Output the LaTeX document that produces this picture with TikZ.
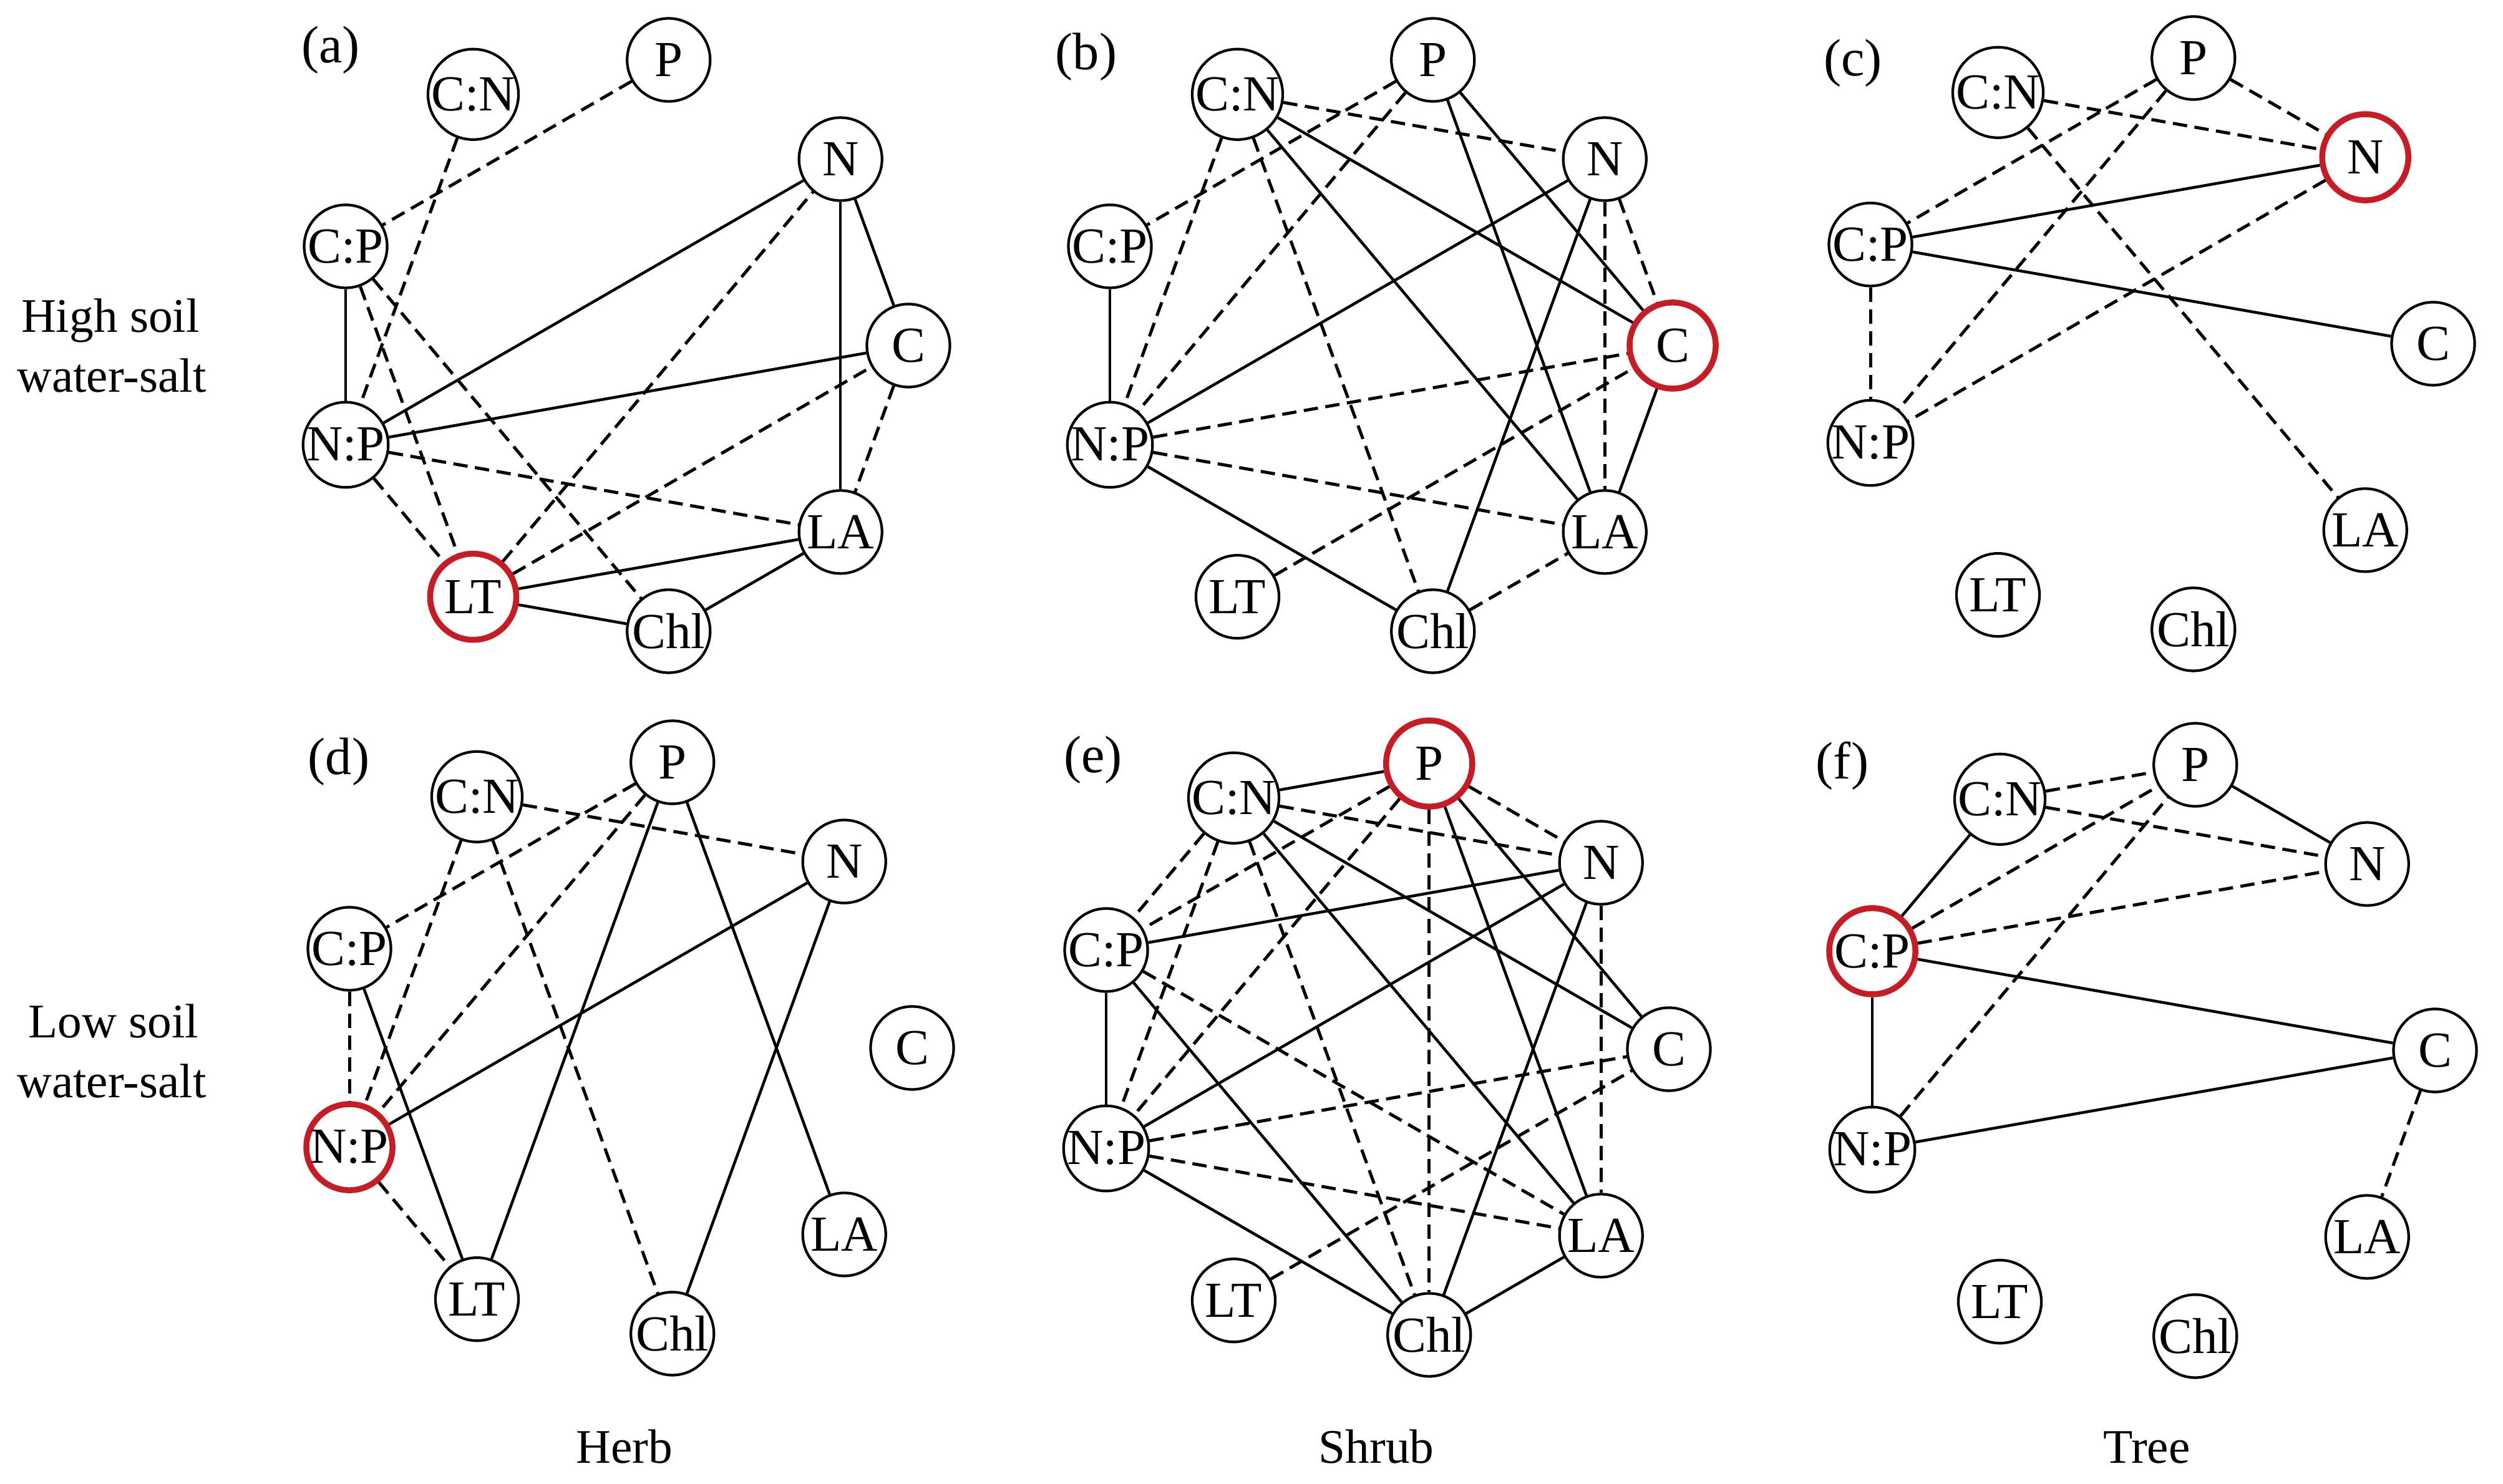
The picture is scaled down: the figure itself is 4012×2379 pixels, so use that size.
\documentclass[tikz,border=0pt]{standalone}
\usepackage{fontspec}
\setmainfont{Liberation Serif}
\definecolor{hlred}{RGB}{200,28,36}
\newcommand\panelnodes[3]{%
 \begin{scope}[shift={(#2,#3)}]
 \node[nd,hl#1C/.try] (#1C) at (0:465) {C};
 \node[nd,hl#1N/.try] (#1N) at (40:465) {N};
 \node[nd,hl#1P/.try] (#1P) at (80:465) {P};
 \node[nd,hl#1CN/.try] (#1CN) at (120:465) {C:N};
 \node[nd,hl#1CP/.try] (#1CP) at (160:465) {C:P};
 \node[nd,hl#1NP/.try] (#1NP) at (200:465) {N:P};
 \node[nd,hl#1LT/.try] (#1LT) at (240:465) {LT};
 \node[nd,hl#1Chl/.try] (#1Chl) at (280:465) {Chl};
 \node[nd,hl#1LA/.try] (#1LA) at (320:465) {LA};
 \end{scope}}
\begin{document}
\begin{tikzpicture}[x=0.01cm,y=0.01cm,
 nd/.style={circle,draw,line width=0.042cm,minimum size=1.33cm,inner sep=0pt,font=\fontsize{23}{26}\selectfont},
 redring/.style={draw=hlred,line width=0.095cm,minimum size=1.38cm},
 sl/.style={line width=0.045cm},
 dl/.style={line width=0.05cm,dash pattern=on 0.23cm off 0.12cm},
 lbl/.style={font=\fontsize{24}{28}\selectfont},
 side/.style={font=\fontsize{22}{26}\selectfont,anchor=base},
 hlaLT/.style={redring}, hlbC/.style={redring}, hlcN/.style={redring},
 hldNP/.style={redring}, hleP/.style={redring}, hlfCP/.style={redring}]
\useasboundingbox (0,0) rectangle (4012,2379);

% panel nodes
\panelnodes{a}{991}{1825}
\panelnodes{b}{2216}{1825}
\panelnodes{c}{3435}{1828}
\panelnodes{d}{997}{699}
\panelnodes{e}{2210}{697}
\panelnodes{f}{3438}{695}

% (a)
\foreach \u/\v in {CP/NP, NP/N, NP/C, N/LA, N/C, LT/LA, LT/Chl, Chl/LA}
  \draw[sl] (a\u) -- (a\v);
\foreach \u/\v in {P/CP, CN/NP, CP/LT, CP/Chl, NP/LA, NP/LT, LT/N, LT/C, C/LA}
  \draw[dl] (a\u) -- (a\v);
% (b)
\foreach \u/\v in {CP/NP, CN/C, CN/LA, P/LA, P/C, N/NP, N/Chl, C/LA, NP/Chl}
  \draw[sl] (b\u) -- (b\v);
\foreach \u/\v in {CN/N, P/CP, P/NP, CN/NP, CN/Chl, N/LA, N/C, NP/C, NP/LA, LT/C, Chl/LA}
  \draw[dl] (b\u) -- (b\v);
% (c)
\foreach \u/\v in {CP/N, CP/C}
  \draw[sl] (c\u) -- (c\v);
\foreach \u/\v in {CN/N, P/N, P/CP, P/NP, CN/LA, N/NP, CP/NP}
  \draw[dl] (c\u) -- (c\v);
% (d)
\foreach \u/\v in {CP/LT, P/LT, P/LA, N/NP, N/Chl}
  \draw[sl] (d\u) -- (d\v);
\foreach \u/\v in {CN/N, P/CP, P/NP, CN/NP, CN/Chl, CP/NP, NP/LT}
  \draw[dl] (d\u) -- (d\v);
% (e)
\foreach \u/\v in {CN/P, CP/N, CP/NP, CP/Chl, CN/C, CN/LA, P/LA, P/C, N/NP, N/Chl, NP/Chl, Chl/LA}
  \draw[sl] (e\u) -- (e\v);
\foreach \u/\v in {CN/N, P/N, P/CP, P/NP, P/Chl, CN/CP, CN/NP, CN/Chl, CP/LA, N/LA, NP/C, NP/LA, LT/C}
  \draw[dl] (e\u) -- (e\v);
% (f)
\foreach \u/\v in {CN/CP, P/N, CP/C, CP/NP, NP/C}
  \draw[sl] (f\u) -- (f\v);
\foreach \u/\v in {CN/P, CN/N, CP/P, CP/N, NP/P, C/LA}
  \draw[dl] (f\u) -- (f\v);

% panel labels
\node[lbl] (la) at (530,2299) {(a)};
\node[lbl] (lb) at (1741,2288) {(b)};
\node[lbl] (lc) at (2970,2278) {(c)};
\node[lbl] (ld) at (543,1158) {(d)};
\node[lbl] (le) at (1752,1161) {(e)};
\node[lbl] (lf) at (2953,1151) {(f)};

% row labels
\node[side] (h1) at (177,1846) {High soil};
\node[side] (h2) at (179,1750) {water-salt};
\node[side] (l1) at (182,715) {Low soil};
\node[side] (l2) at (179,619) {water-salt};

% column labels
\node[side] (herb) at (1001,33) {Herb};
\node[side] (shrub) at (2206,33) {Shrub};
\node[side] (tree) at (3441,33) {Tree};
\end{tikzpicture}
\end{document}
